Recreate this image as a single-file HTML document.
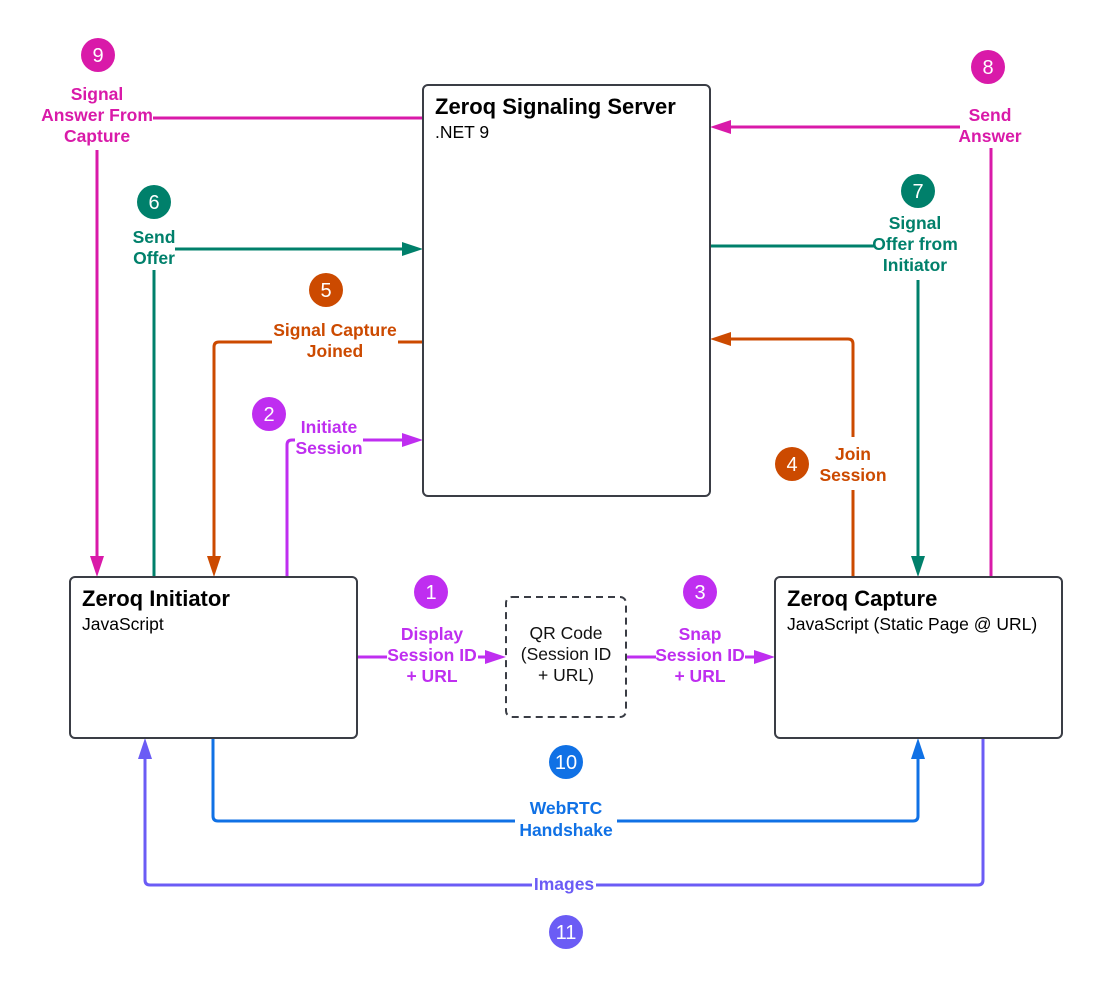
<!DOCTYPE html>
<html><head><style>
body{margin:0;background:#fff}
svg text{font-family:"Liberation Sans",Arial,sans-serif}
.l{font-weight:bold;font-size:17.5px;text-anchor:middle}
.n{fill:#fff;font-size:20px;text-anchor:middle}
</style></head><body>
<svg width="1103" height="989" viewBox="0 0 1103 989" xmlns="http://www.w3.org/2000/svg">
<g fill="none" stroke-width="3">
<path d="M423,118 H153" stroke="#d91aa9"/>
<path d="M97,150 V566" stroke="#d91aa9"/>
<path d="M90,556 L97,577 L104,556z" fill="#d91aa9" stroke="none"/>
<path d="M991,577 V148" stroke="#d91aa9"/>
<path d="M960,127 H722" stroke="#d91aa9"/>
<path d="M731,120 L710,127 L731,134z" fill="#d91aa9" stroke="none"/>
<path d="M154,577 V270" stroke="#00806b"/>
<path d="M175,249 H412" stroke="#00806b"/>
<path d="M402,242 L423,249 L402,256z" fill="#00806b" stroke="none"/>
<path d="M710,246 H875" stroke="#00806b"/>
<path d="M918,280 V566" stroke="#00806b"/>
<path d="M911,556 L918,577 L925,556z" fill="#00806b" stroke="none"/>
<path d="M423,342 H398" stroke="#cc4a00"/>
<path d="M272,342 H219 Q214,342 214,347 V566" stroke="#cc4a00"/>
<path d="M207,556 L214,577 L221,556z" fill="#cc4a00" stroke="none"/>
<path d="M853,577 V490" stroke="#cc4a00"/>
<path d="M853,437 V344 Q853,339 848,339 H722" stroke="#cc4a00"/>
<path d="M731,332 L710,339 L731,346z" fill="#cc4a00" stroke="none"/>
<path d="M287,577 V445 Q287,440 292,440 H295" stroke="#bf2ef0"/>
<path d="M363,440 H412" stroke="#bf2ef0"/>
<path d="M402,433 L423,440 L402,447z" fill="#bf2ef0" stroke="none"/>
<path d="M357,657 H387 M478,657 H495" stroke="#bf2ef0"/>
<path d="M485,650 L506,657 L485,664z" fill="#bf2ef0" stroke="none"/>
<path d="M626,657 H656 M745,657 H764" stroke="#bf2ef0"/>
<path d="M754,650 L775,657 L754,664z" fill="#bf2ef0" stroke="none"/>
<path d="M213,738 V816 Q213,821 218,821 H913 Q918,821 918,816 V750" stroke="#1071e5"/>
<path d="M911,759 L918,738 L925,759z" fill="#1071e5" stroke="none"/>
<path d="M983,738 V880 Q983,885 978,885 H150 Q145,885 145,880 V750" stroke="#6b5cf5"/>
<path d="M138,759 L145,738 L152,759z" fill="#6b5cf5" stroke="none"/>
</g>
<rect x="423" y="85" width="287" height="411" rx="5" fill="#fff" stroke="#3a3d45" stroke-width="2"/>
<rect x="70" y="577" width="287" height="161" rx="5" fill="#fff" stroke="#3a3d45" stroke-width="2"/>
<rect x="775" y="577" width="287" height="161" rx="5" fill="#fff" stroke="#3a3d45" stroke-width="2"/>
<rect x="506" y="597" width="120" height="120" rx="6" fill="#fff" stroke="#3a3d45" stroke-width="2" stroke-dasharray="7,5"/>
<text x="435" y="114" font-size="22" font-weight="bold">Zeroq Signaling Server</text>
<text x="435" y="138" font-size="17.5">.NET 9</text>
<text x="82" y="606" font-size="22" font-weight="bold">Zeroq Initiator</text>
<text x="82" y="630" font-size="17.5">JavaScript</text>
<text x="787" y="606" font-size="22" font-weight="bold">Zeroq Capture</text>
<text x="787" y="630" font-size="17.5">JavaScript (Static Page @ URL)</text>
<g font-size="17.5" text-anchor="middle" fill="#111"><text x="566" y="639">QR Code</text><text x="566" y="660">(Session ID</text><text x="566" y="681">+ URL)</text></g>
<g fill="#d91aa9"><text x="97" y="100" class="l">Signal</text><text x="97" y="121" class="l">Answer From</text><text x="97" y="142" class="l">Capture</text>
<text x="990" y="121" class="l">Send</text><text x="990" y="142" class="l">Answer</text></g>
<g fill="#00806b"><text x="154" y="243" class="l">Send</text><text x="154" y="264" class="l">Offer</text>
<text x="915" y="229" class="l">Signal</text><text x="915" y="250" class="l">Offer from</text><text x="915" y="271" class="l">Initiator</text></g>
<g fill="#cc4a00"><text x="335" y="336" class="l">Signal Capture</text><text x="335" y="357" class="l">Joined</text>
<text x="853" y="460" class="l">Join</text><text x="853" y="481" class="l">Session</text></g>
<g fill="#bf2ef0"><text x="329" y="433" class="l">Initiate</text><text x="329" y="454" class="l">Session</text>
<text x="432" y="640" class="l">Display</text><text x="432" y="661" class="l">Session ID</text><text x="432" y="682" class="l">+ URL</text>
<text x="700" y="640" class="l">Snap</text><text x="700" y="661" class="l">Session ID</text><text x="700" y="682" class="l">+ URL</text></g>
<rect x="515" y="796" width="102" height="44" fill="#fff"/>
<g fill="#1071e5"><text x="566" y="814" class="l">WebRTC</text><text x="566" y="836" class="l">Handshake</text></g>
<rect x="532" y="874" width="64" height="20" fill="#fff"/>
<text x="564" y="890" class="l" fill="#6b5cf5">Images</text>
<g>
<circle cx="98" cy="55" r="17" fill="#d91aa9"/><text x="98" y="62" class="n">9</text>
<circle cx="988" cy="67" r="17" fill="#d91aa9"/><text x="988" y="74" class="n">8</text>
<circle cx="154" cy="202" r="17" fill="#00806b"/><text x="154" y="209" class="n">6</text>
<circle cx="918" cy="191" r="17" fill="#00806b"/><text x="918" y="198" class="n">7</text>
<circle cx="326" cy="290" r="17" fill="#cc4a00"/><text x="326" y="297" class="n">5</text>
<circle cx="792" cy="464" r="17" fill="#cc4a00"/><text x="792" y="471" class="n">4</text>
<circle cx="269" cy="414" r="17" fill="#bf2ef0"/><text x="269" y="421" class="n">2</text>
<circle cx="431" cy="592" r="17" fill="#bf2ef0"/><text x="431" y="599" class="n">1</text>
<circle cx="700" cy="592" r="17" fill="#bf2ef0"/><text x="700" y="599" class="n">3</text>
<circle cx="566" cy="762" r="17" fill="#1071e5"/><text x="566" y="769" class="n">10</text>
<circle cx="566" cy="932" r="17" fill="#6b5cf5"/><text x="566" y="939" class="n">11</text>
</g>
</svg>
</body></html>
